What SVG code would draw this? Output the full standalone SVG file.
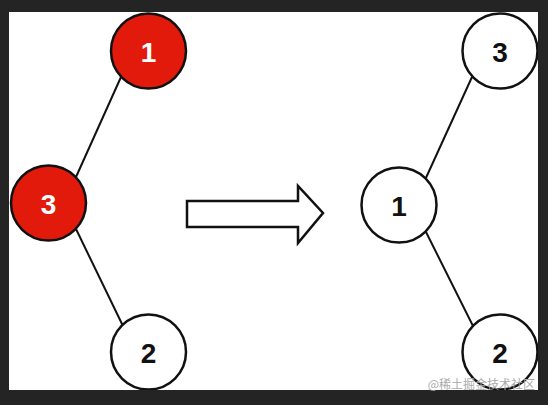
<svg xmlns="http://www.w3.org/2000/svg" width="548" height="405" viewBox="0 0 548 405">
<style>
.n{stroke:#111;stroke-width:2.5}
.red{fill:#e11a0c}
.wh{fill:#fff}
.t{font-family:"Liberation Sans",Arial,sans-serif;font-size:28px;font-weight:bold;text-anchor:middle;dominant-baseline:central}
.tw{fill:#fff}
.tb{fill:#111}
.e{stroke:#111;stroke-width:2;fill:none}
</style>
<rect width="548" height="405" fill="#242424"/>
<rect x="9" y="12" width="529" height="378" fill="#fff"/>
<g id="connectors">
<line class="e" x1="121" y1="77" x2="76" y2="177"/>
<line class="e" x1="76" y1="229" x2="123" y2="326"/>
<line class="e" x1="472" y1="77" x2="425" y2="180"/>
<line class="e" x1="425" y1="230" x2="473" y2="326"/>
</g>
<g id="arrow">
<polygon points="187,201 298,201 298,186 323,213 298,243 298,227 187,227" fill="#fff" stroke="#111" stroke-width="2.5" stroke-linejoin="miter"/>
</g>
<g id="l1"><circle class="n red" cx="148.5" cy="51" r="37.5"/><text class="t tw" x="148.5" y="52">1</text></g>
<g id="l3"><circle class="n red" cx="48.5" cy="203" r="37.5"/><text class="t tw" x="48.5" y="204">3</text></g>
<g id="l2"><circle class="n wh" cx="148.5" cy="352" r="37.5"/><text class="t tb" x="148.5" y="353">2</text></g>
<g id="r3"><circle class="n wh" cx="500" cy="51" r="37.5"/><text class="t tb" x="500" y="52">3</text></g>
<g id="r1"><circle class="n wh" cx="399" cy="205" r="37.5"/><text class="t tb" x="399" y="206">1</text></g>
<g id="r2"><circle class="n wh" cx="500" cy="352" r="37.5"/><text class="t tb" x="500" y="353">2</text></g>
<rect x="538" y="0" width="10" height="405" fill="#242424"/>
<rect x="0" y="390" width="548" height="15" fill="#242424"/>
<text x="535" y="389" font-family="'Noto Sans CJK SC',sans-serif" font-size="12" fill="#aaa" text-anchor="end">@稀土掘金技术社区</text>
</svg>
